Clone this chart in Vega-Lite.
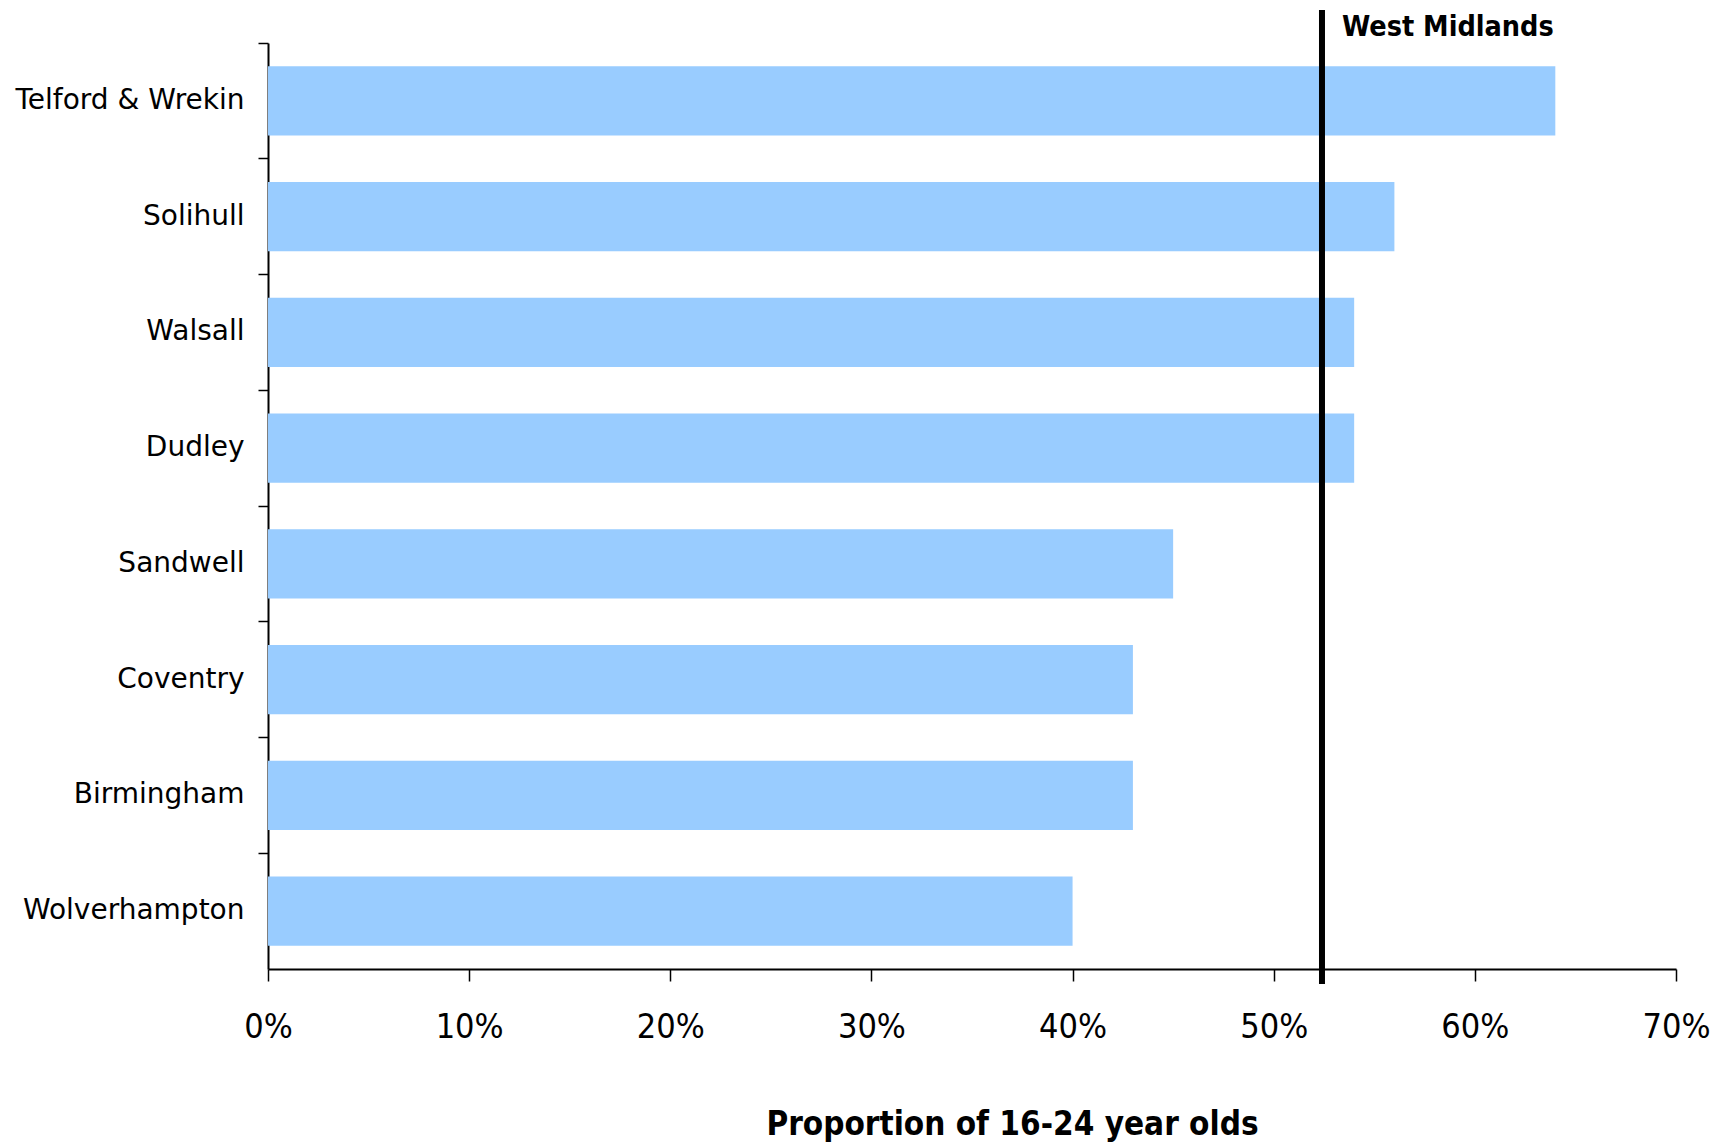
{
  "$schema": "https://vega.github.io/schema/vega-lite/v6.json",
  "width": 1408,
  "height": 926,
  "autosize": {"type": "none"},
  "padding": {"left": 268, "top": 43, "right": 45, "bottom": 176},
  "background": "white",
  "config": {"view": {"stroke": null}},
  "data": {"values": [
    {"area": "Telford & Wrekin", "share": 0.64},
    {"area": "Solihull", "share": 0.56},
    {"area": "Walsall", "share": 0.54},
    {"area": "Dudley", "share": 0.54},
    {"area": "Sandwell", "share": 0.45},
    {"area": "Coventry", "share": 0.43},
    {"area": "Birmingham", "share": 0.43},
    {"area": "Wolverhampton", "share": 0.40}
  ]},
  "layer": [
    {
      "mark": {"type": "bar", "color": "#99CCFF"},
      "encoding": {
        "y": {"field": "area", "type": "nominal", "sort": null,
          "scale": {"paddingInner": 0.4, "paddingOuter": 0.2},
          "axis": {"orient": "left", "title": null, "ticks": false, "domain": false,
            "labelFont": "DejaVu Sans", "labelFontSize": 28, "labelColor": "black",
            "labelPadding": 24, "labelLimit": 400}},
        "x": {"field": "share", "type": "quantitative",
          "scale": {"domain": [0, 0.7]},
          "axis": {"format": ".0%", "values": [0, 0.1, 0.2, 0.3, 0.4, 0.5, 0.6, 0.7],
            "grid": false, "domainColor": "black", "domainWidth": 2,
            "tickColor": "black", "tickWidth": 1.5, "tickSize": 12, "labelFlush": false,
            "labelFont": "DejaVu Sans Condensed",
            "labelFontSize": 34, "labelColor": "black", "labelPadding": 29,
            "title": "Proportion of 16-24 year olds",
            "titleFont": "DejaVu Sans Condensed", "titleFontSize": 33, "titleFontWeight": "bold",
            "titleColor": "black", "titleX": 744, "titleY": 165, "titleAlign": "center",
            "titleBaseline": "alphabetic"}}
      }
    },
    {
      "mark": {"type": "bar", "opacity": 0},
      "encoding": {
        "y": {"field": "area", "type": "nominal", "sort": null,
          "axis": {"orient": "left", "title": null, "labels": false, "bandPosition": -0.3333,
            "ticks": true, "tickSize": 10, "tickColor": "black", "tickWidth": 1.5,
            "domain": true, "domainColor": "black", "domainWidth": 2, "grid": false}},
        "x": {"field": "share", "type": "quantitative"}
      }
    },
    {
      "data": {"values": [{"region": "West Midlands", "share": 0.524}]},
      "mark": {"type": "rule", "color": "black", "strokeWidth": 6, "y": -33, "y2": {"expr": "height + 15"}},
      "encoding": {"x": {"field": "share", "type": "quantitative"}}
    },
    {
      "data": {"values": [{"region": "West Midlands", "share": 0.524}]},
      "mark": {"type": "text", "align": "left", "baseline": "alphabetic", "dx": 20, "y": -7,
        "font": "DejaVu Sans Condensed", "fontSize": 28.5, "fontWeight": "bold", "color": "black"},
      "encoding": {"x": {"field": "share", "type": "quantitative"}, "text": {"field": "region"}}
    }
  ],
  "resolve": {"axis": {"y": "independent"}}
}
